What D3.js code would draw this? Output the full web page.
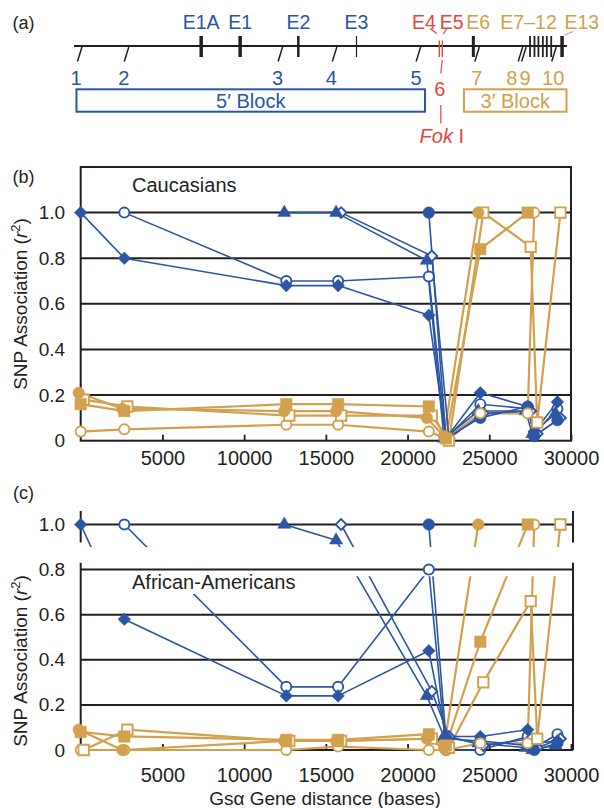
<!DOCTYPE html>
<html>
<head>
<meta charset="utf-8">
<script src="https://cdn.jsdelivr.net/npm/d3@7"></script>
<style>
  html, body { margin: 0; padding: 0; background: #fff; }
  svg { display: block; font-family: "Liberation Sans", Arial, sans-serif; }
</style>
</head>
<body>
<div id="chart"></div>
<script>
// --- DATA ---
// SNPs along the Gs-alpha gene (SNP 6 = FokI site)
const snpLabels = ["1", "2", "3", "4", "5", "6", "7", "8", "9", "10"];
const snpBases = [0, 2670, 12580, 15750, 21300, 22350, 24450, 27350, 27750, 29170];

// gene map (panel a), positions in % of the drawn gene line
const snpMapPos = [0.7, 10.2, 41.4, 52.4, 69.4, 74.4, 81.3, 90.1, 90.8, 96.9];
const snpLabelPos = [0.4, 10.1, 41.3, 52.2, 69.4, 74.2, 81.7, 88.8, 91.5, 97.2];
const exonBarNames = ["E1A", "E1", "E2", "E3", "E4", "E5", "E6", "E7", "E8", "E9", "E10", "E11", "E12", "E13"];
const exonBarPos = [25.8, 33.7, 45.5, 57.3, 74.1, 74.7, 81.0, 92.5, 93.4, 94.2, 95.1, 95.9, 96.8, 99.0];
const exonLabels = ["E1A", "E1", "E2", "E3", "E4", "E5", "E6", "E7\u201312", "E13"];
const exonLabelPos = [25.8, 33.7, 45.5, 57.3, 71.0, 76.6, 82.0, 92.2, 103.0];
const blockNames = ["5\u2032 Block", "3\u2032 Block"];
const blockStart = [0.5, 79.1];
const blockEnd = [71.2, 99.9];

// r2 of each SNP with the others (null = not plotted)
const seriesNames = ["SNP1", "SNP2", "SNP3", "SNP4", "SNP5", "SNP7", "SNP8", "SNP9", "SNP10"];
const caucasianR2 = [
  [1.00, 0.80, 0.68, 0.68, 0.55, 0.01, 0.21, 0.15, 0.04, 0.17],
  [null, 1.00, 0.70, 0.70, 0.72, 0.01, 0.16, 0.14, 0.03, 0.14],
  [null, null, 1.00, 1.00, 0.79, 0.01, 0.13, 0.13, 0.03, 0.12],
  [null, null, null, 1.00, 0.81, 0.01, 0.12, 0.13, 0.03, 0.10],
  [null, null, null, null, 1.00, 0.01, 0.10, 0.15, 0.02, 0.09],
  [0.21, 0.14, 0.13, 0.13, 0.10, 0.02, 1.00, null, null, null],
  [0.16, 0.13, 0.16, 0.16, 0.15, 0.01, 0.84, 1.00, null, null],
  [0.04, 0.05, 0.07, 0.07, 0.04, 0.01, 0.12, 0.12, 1.00, null],
  [0.18, 0.15, 0.11, 0.11, 0.11, 0.00, 1.00, 0.85, 0.08, 1.00]
];
const africanR2 = [
  [1.00, 0.58, 0.24, 0.24, 0.44, 0.06, 0.06, 0.09, 0.03, 0.04],
  [null, 1.00, 0.28, 0.28, 0.80, 0.00, 0.00, 0.06, 0.01, 0.07],
  [null, null, 1.00, 0.93, 0.24, 0.06, 0.03, 0.01, 0.00, 0.02],
  [null, null, null, 1.00, 0.26, 0.06, 0.02, 0.05, 0.01, 0.05],
  [null, null, null, null, 1.00, 0.05, 0.04, 0.02, 0.00, 0.03],
  [0.09, 0.00, 0.04, 0.04, 0.05, 0.01, 1.00, null, null, null],
  [0.08, 0.06, 0.045, 0.045, 0.07, 0.02, 0.48, 1.00, null, null],
  [0.00, 0.00, 0.00, 0.015, 0.00, 0.00, 0.03, 0.03, 1.00, null],
  [0.00, 0.09, 0.04, 0.04, 0.05, 0.01, 0.30, 0.66, 0.05, 1.00]
];

// --- STYLES ---
const blue = "#2c55a5", tan = "#d3a04e", red = "#e8453c", ink = "#231f20";
// nudge = small horizontal marker offset (px) so coincident markers sit side by side
const seriesStyle = {
  SNP1: { color: blue, shape: "diamond", open: false, nudge: 0 },
  SNP2: { color: blue, shape: "circle", open: true, nudge: 0 },
  SNP3: { color: blue, shape: "triangle", open: false, nudge: -2 },
  SNP4: { color: blue, shape: "diamond", open: true, nudge: 3 },
  SNP5: { color: blue, shape: "circle", open: false, nudge: 0 },
  SNP7: { color: tan, shape: "circle", open: false, nudge: -2 },
  SNP8: { color: tan, shape: "square", open: false, nudge: 0 },
  SNP9: { color: tan, shape: "circle", open: true, nudge: 0 },
  SNP10: { color: tan, shape: "square", open: true, nudge: 3 }
};

const svg = d3.select("#chart").append("svg").attr("width", 604).attr("height", 808);

function label(g, txt, x, y, opts = {}) {
  return g.append("text").attr("x", x).attr("y", y)
    .attr("text-anchor", opts.anchor || "middle")
    .attr("font-size", opts.size || 20)
    .attr("fill", opts.color || ink)
    .text(txt);
}

// --- 1. PANEL (a): GENE MAP ---
const mapX = d3.scaleLinear().domain([0, 100]).range([74, 567]);
const gA = svg.append("g");
label(gA, "(a)", 23.5, 28.5, { size: 18 });

gA.append("line").attr("x1", mapX(0)).attr("x2", mapX(100)).attr("y1", 46).attr("y2", 46)
  .attr("stroke", ink).attr("stroke-width", 2);

const barWidth = { E1A: 3.5, E1: 3.5, E2: 2.5, E3: 1.2, E4: 1.4, E5: 1.4, E6: 3, E13: 3.5 };
gA.selectAll(".exon").data(exonBarPos).join("line")
  .attr("x1", d => mapX(d)).attr("x2", d => mapX(d))
  .attr("y1", (d, i) => /^E[45]$/.test(exonBarNames[i]) ? 40.5 : 36)
  .attr("y2", 57)
  .attr("stroke", (d, i) => /^E[45]$/.test(exonBarNames[i]) ? red : ink)
  .attr("stroke-width", (d, i) => barWidth[exonBarNames[i]] || 1.8);

const exonColor = n => /E1A|E1$|E2|E3/.test(n) ? blue : (/E4|E5/.test(n) ? red : tan);
exonLabels.forEach((n, i) => label(gA, n, mapX(exonLabelPos[i]), 29, { color: exonColor(n), size: 19.5 }));

// leader lines from labels to the small exons
const leader = (x1, y1, x2, y2, c) => gA.append("line").attr("x1", x1).attr("y1", y1)
  .attr("x2", x2).attr("y2", y2).attr("stroke", c).attr("stroke-width", 1.2);
leader(mapX(exonLabelPos[4]) + 6, 28.5, mapX(exonBarPos[4]) - 2.5, 33.5, red);
leader(mapX(exonLabelPos[5]) - 5, 29, mapX(exonBarPos[5]) + 1, 34, red);
leader(mapX(exonBarPos[13]) + 2.5, 35, mapX(exonBarPos[13]) + 11, 31.5, "#e98bb7");

// SNP ticks and labels
const snpColor = i => i < 5 ? blue : (i === 5 ? red : tan);
snpMapPos.forEach((p, i) => {
  if (i === 5) return;
  gA.append("line").attr("x1", mapX(p)).attr("y1", 61.5).attr("x2", mapX(p) + 4.5).attr("y2", 47)
    .attr("stroke", ink).attr("stroke-width", 1.5);
});
snpLabels.forEach((s, i) => label(gA, s, mapX(snpLabelPos[i]), i === 5 ? 96 : 85, { color: snpColor(i) }));

// FokI site (SNP 6)
leader(mapX(exonBarPos[5]), 60, mapX(snpMapPos[5]), 73.5, red);
leader(mapX(snpMapPos[5]), 105, mapX(snpMapPos[5]), 123.5, red);
const fok = gA.append("text").attr("x", mapX(snpMapPos[5]) + 1).attr("y", 143)
  .attr("text-anchor", "middle").attr("font-size", 20).attr("fill", red);
fok.append("tspan").attr("font-style", "italic").text("Fok");
fok.append("tspan").text(" I");

// haplotype blocks
blockNames.forEach((n, i) => {
  const c = i === 0 ? blue : tan;
  gA.append("rect").attr("x", mapX(blockStart[i])).attr("y", 89.3)
    .attr("width", mapX(blockEnd[i]) - mapX(blockStart[i])).attr("height", 22.4)
    .attr("fill", "none").attr("stroke", c).attr("stroke-width", 2);
  label(gA, n, (mapX(blockStart[i]) + mapX(blockEnd[i])) / 2, 107.5, { color: c });
});

// --- 2. SHARED SCALES FOR (b) AND (c) ---
const x = d3.scaleLinear().domain([0, 30000]).range([80.7, 571]);
const xTicks = [5000, 10000, 15000, 20000, 25000, 30000];
const yTicks = [0, 0.2, 0.4, 0.6, 0.8, 1.0];
const fmtY = d => d === 0 ? "0" : d3.format(".1f")(d);

function symbolPath(st) {
  const type = { circle: d3.symbolCircle, square: d3.symbolSquare, diamond: d3.symbolSquare, triangle: d3.symbolTriangle }[st.shape];
  const size = { circle: st.open ? 80 : 106, square: st.open ? 108 : 132, diamond: st.open ? 58 : 80, triangle: 74 }[st.shape];
  return d3.symbol(type, size)();
}

function drawSeries(g, rows, y, clips) {
  const series = rows.map((vals, i) => ({
    style: seriesStyle[seriesNames[i]],
    points: vals.map((v, j) => ({ pos: snpBases[j], r2: v }))
  }));
  const px = (s, p) => x(p.pos) + s.style.nudge;
  const byLine = series.slice().sort((a, b) => (a.style.color === tan ? 0 : 1) - (b.style.color === tan ? 0 : 1));
  clips.forEach(clip => {
    g.append("g").attr("clip-path", clip ? `url(#${clip})` : null)
      .selectAll("path").data(byLine).join("path")
        .attr("d", s => d3.line().defined(p => p.r2 != null).x(p => px(s, p)).y(p => y(p.r2))(s.points))
        .attr("fill", "none")
        .attr("stroke", s => s.style.color)
        .attr("stroke-width", s => s.style.color === tan ? 2.2 : 1.6)
        .attr("stroke-linejoin", "round");
  });
  return () => {
    const rank = s => (s.style.color === tan ? 2 : 0) + (s.style.open ? 0 : 1);
    const byMarker = series.slice().sort((a, b) => rank(a) - rank(b));
    const mg = g.append("g");
    byMarker.forEach(s => {
      mg.selectAll(null).data(s.points.filter(p => p.r2 != null)).join("path")
        .attr("d", symbolPath(s.style))
        .attr("transform", p => `translate(${px(s, p)},${y(p.r2)})` + (s.style.shape === "diamond" ? " rotate(45)" : ""))
        .attr("fill", s.style.open ? "#fff" : s.style.color)
        .attr("stroke", s.style.color)
        .attr("stroke-width", s.style.open ? 1.9 : 0.5);
    });
  };
}

function xAxis(g, yPos, spacing) {
  g.append("g").attr("transform", `translate(0,${yPos})`)
    .call(d3.axisBottom(x).tickValues(xTicks).tickFormat(d3.format("d"))
      .tickSizeInner(-6).tickSizeOuter(0).tickPadding(spacing))
    .call(a => a.select(".domain").remove())
    .call(a => a.selectAll("line").attr("stroke", ink).attr("stroke-width", 1.8))
    .call(a => a.selectAll("text").attr("font-size", 20).attr("fill", ink)
      .attr("font-family", "Liberation Sans, Arial, sans-serif"));
}

function yLabels(g, y) {
  g.append("g").attr("transform", `translate(${x.range()[0]},0)`)
    .call(d3.axisLeft(y).tickValues(yTicks).tickFormat(fmtY).tickSize(0).tickPadding(15.5))
    .call(a => a.select(".domain").remove())
    .call(a => a.selectAll("text").attr("font-size", 19).attr("fill", ink)
      .attr("font-family", "Liberation Sans, Arial, sans-serif"));
}

function yTitle(g, cy) {
  const t = g.append("text").attr("transform", `translate(27,${cy}) rotate(-90)`)
    .attr("text-anchor", "middle").attr("font-size", 19).attr("fill", ink);
  t.append("tspan").text("SNP Association (");
  t.append("tspan").attr("font-style", "italic").text("r");
  t.append("tspan").attr("dy", -7).attr("font-size", 13).text("2");
  t.append("tspan").attr("dy", 7).text(")");
}

const hLine = (g, x1, x2, yv) => g.append("line").attr("x1", x1).attr("x2", x2).attr("y1", yv).attr("y2", yv)
  .attr("stroke", ink).attr("stroke-width", 2);
const vLine = (g, xv, y1, y2) => g.append("line").attr("x1", xv).attr("x2", xv).attr("y1", y1).attr("y2", y2)
  .attr("stroke", ink).attr("stroke-width", 2);

// --- 3. PANEL (b): CAUCASIANS ---
const yB = d3.scaleLinear().domain([0, 1.2]).range([440.7, 167]);
const gB = svg.append("g");
label(gB, "(b)", 23.5, 183, { size: 18 });
yTicks.slice(1).forEach(t => hLine(gB, x(0), x(30000), yB(t)));
gB.append("rect").attr("x", x(0)).attr("y", yB(1.2)).attr("width", x(30000) - x(0)).attr("height", yB(0) - yB(1.2))
  .attr("fill", "none").attr("stroke", ink).attr("stroke-width", 2);
xAxis(gB, yB(0), 10);
yLabels(gB, yB);
yTitle(gB, 304);
label(gB, "Caucasians", 132, 192, { anchor: "start" });
drawSeries(gB, caucasianR2, yB, [null])();

// --- 4. PANEL (c): AFRICAN-AMERICANS (broken axis) ---
const yC = d3.scaleLinear().domain([0, 1]).range([750, 524.5]);
const gC = svg.append("g");
const xR = 573;
label(gC, "(c)", 23.5, 498.5, { size: 18 });

// lines are shown only inside the two axis pieces
const defs = svg.append("defs");
defs.append("clipPath").attr("id", "clipTop").append("rect")
  .attr("x", 60).attr("width", 540).attr("y", yC(1.15)).attr("height", yC(0.9) - yC(1.15));
const lowTop = yC(0.77), lowBottom = yC(-0.05), cut = yC(0.57);
defs.append("clipPath").attr("id", "clipLow").append("path")
  .attr("d", `M60,${cut}H128V${lowTop}H600V${lowBottom}H60Z`);

yTicks.forEach(t => hLine(gC, x(0), xR, yC(t)));
[x(0), xR].forEach(xv => { vLine(gC, xv, yC(1.06), yC(0.92)); vLine(gC, xv, yC(0.83), yC(0)); });
xAxis(gC, yC(0), 17.5);
yLabels(gC, yC);
yTitle(gC, 661);

const drawMarkersC = drawSeries(gC, africanR2, yC, ["clipTop", "clipLow"]);
gC.append("rect").attr("x", 128).attr("y", 571).attr("width", 172).attr("height", 23).attr("fill", "#fff");
label(gC, "African-Americans", 132, 589, { anchor: "start" });
drawMarkersC();

svg.append("text").attr("x", 325).attr("y", 805).attr("text-anchor", "middle")
  .attr("font-size", 19).attr("fill", ink).text("Gs\u03b1 Gene distance (bases)");
</script>
</body>
</html>
